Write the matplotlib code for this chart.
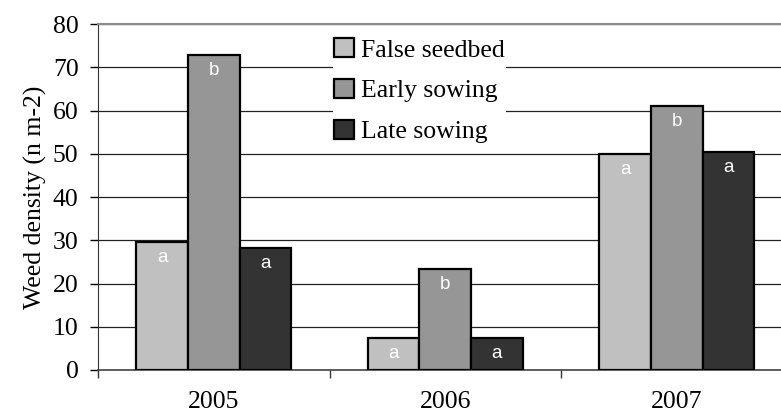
import numpy as np
from matplotlib import pyplot as plt

# weed density per year and treatment
years = ["2005", "2006", "2007"]
series_names = ["False seedbed", "Early sowing", "Late sowing"]
false_seedbed = [29.5, 7.5, 49.9]
early_sowing = [72.8, 23.3, 61.0]
late_sowing = [28.3, 7.3, 50.3]
letters_false = ["a", "a", "a"]
letters_early = ["b", "b", "b"]
letters_late = ["a", "a", "a"]

colors = ["#c0c0c0", "#969696", "#333333"]
serif = "Liberation Serif"
sans = "Liberation Sans"
FS = 18.5

fig = plt.figure(figsize=(7.81, 4.17), dpi=100)
ax = fig.add_axes([98 / 781, 47 / 417, 694.5 / 781, 346 / 417])

x = np.arange(len(years))
w = 0.2233
data = [false_seedbed, early_sowing, late_sowing]
letters = [letters_false, letters_early, letters_late]
for i, (vals, lets) in enumerate(zip(data, letters)):
  bars = ax.bar(x + (i - 1) * w, vals, w, color=colors[i], edgecolor="black",
                linewidth=1.6, label=series_names[i], zorder=3)
  for b, t in zip(bars, lets):
    ax.annotate(t, (b.get_x() + b.get_width() / 2, b.get_height()),
                xytext=(0, -5), textcoords="offset points", ha="center", va="top",
                color="white", fontsize=13.5, family=sans, zorder=4)

ax.set_xlim(-0.5, 2.5)
ax.set_ylim(0, 80)
ax.set_yticks(range(0, 90, 10))
ax.yaxis.grid(True, color="#222222", linewidth=0.9)
ax.set_axisbelow(True)

# category boundaries get the ticks, labels sit in the middle
ax.set_xticks([-0.5, 0.5, 1.5, 2.5])
ax.set_xticklabels([])
ax.set_xticks(x, minor=True)
ax.set_xticklabels(years, minor=True, fontsize=FS, family=serif)
ax.tick_params(axis="x", which="major", direction="out", length=6, width=1, color="#333333")
ax.tick_params(axis="x", which="minor", length=0, pad=15)
ax.tick_params(axis="y", direction="out", length=6, width=1, pad=8, labelsize=FS)
for lab in ax.get_yticklabels():
  lab.set_family(serif)

ax.spines["right"].set_visible(False)
ax.spines["top"].set_color("#8a8a8a")
ax.spines["top"].set_linewidth(1.5)
ax.spines["left"].set_color("#333333")
ax.spines["bottom"].set_color("#444444")
ax.spines["bottom"].set_linewidth(1.2)

ax.set_ylabel("Weed density (n m-2)", fontsize=FS, family=serif, labelpad=4)

leg = ax.legend(loc="upper left", bbox_to_anchor=(0.32, 1.0), frameon=True,
                fancybox=False, framealpha=1, edgecolor="white",
                prop={"family": serif, "size": FS}, handlelength=0.75, handleheight=0.75,
                handletextpad=0.3, labelspacing=0.68, borderpad=0.05)
leg.get_frame().set_linewidth(0)
leg.set_zorder(2.4)  # under the top spine, over the grid
for h in leg.legend_handles:
  h.set_linewidth(1.6)

fig.savefig("out.png", dpi=100)
